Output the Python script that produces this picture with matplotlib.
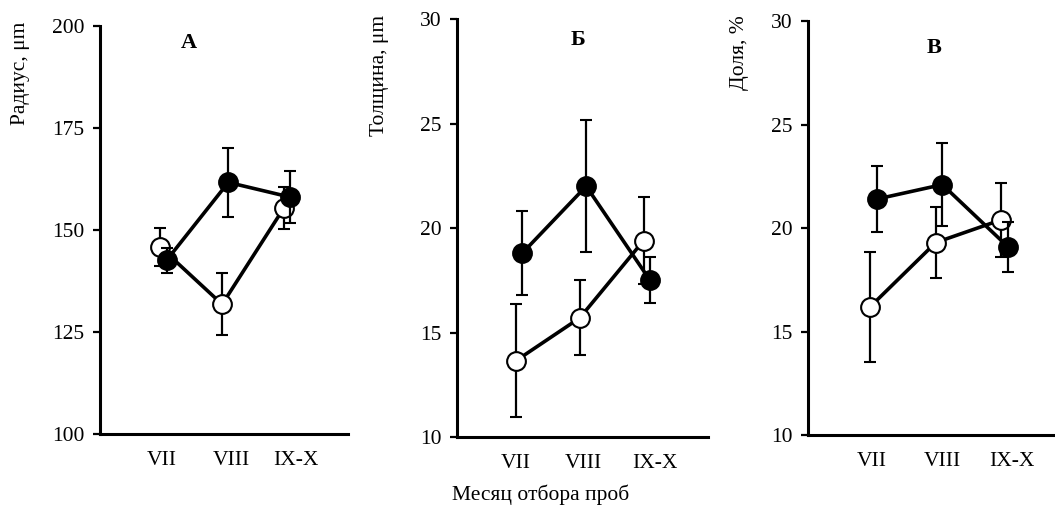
import matplotlib
matplotlib.use('Agg')
import matplotlib.pyplot as plt

plt.rcParams['font.family'] = ['Liberation Serif', 'DejaVu Serif']
plt.rcParams['font.size'] = 15.5

months = ['VII', 'VIII', 'IX-X']

# Panel A: radius
radius_filled = [142.6, 161.7, 158.1]
radius_filled_err = [3.1, 8.5, 6.3]
radius_open = [145.8, 131.8, 155.4]
radius_open_err = [4.7, 7.6, 5.2]

# Panel B: thickness
thick_filled = [18.8, 22.0, 17.5]
thick_filled_err = [2.0, 3.15, 1.1]
thick_open = [13.65, 15.7, 19.4]
thick_open_err = [2.7, 1.8, 2.1]

# Panel C: share
share_filled = [21.4, 22.1, 19.1]
share_filled_err = [1.6, 2.0, 1.2]
share_open = [16.2, 19.3, 20.4]
share_open_err = [2.65, 1.7, 1.8]


def drawPanel(fig, rect, xlim, tickPos, ylim, yticks, letter, letterPos,
              openVals, openErr, filledVals, filledErr):
    """Draws one panel with two series of means and error bars"""
    ax = fig.add_axes(rect)
    xs = [1, 2, 3]
    xOpen = [x - 0.05 for x in xs]
    xFilled = [x + 0.05 for x in xs]
    ax.errorbar(xOpen, openVals, yerr=openErr, color='black', lw=2.6,
                marker='o', ms=13.5, mfc='white', mec='black', mew=1.5,
                ecolor='black', elinewidth=1.6, capsize=4, capthick=1.6,
                zorder=2)
    ax.errorbar(xFilled, filledVals, yerr=filledErr, color='black', lw=2.6,
                marker='o', ms=13.5, mfc='black', mec='black', mew=1.5,
                ecolor='black', elinewidth=1.6, capsize=4, capthick=1.6,
                zorder=3)
    ax.set_xlim(*xlim)
    ax.set_ylim(*ylim)
    ax.set_yticks(yticks)
    ax.set_xticks(tickPos)
    ax.set_xticklabels(months)
    ax.tick_params(axis='x', length=0, pad=12)
    ax.tick_params(axis='y', length=5, width=1.6, pad=6, direction='out')
    for side in ['top', 'right']:
        ax.spines[side].set_visible(False)
    for side in ['left', 'bottom']:
        ax.spines[side].set_linewidth(2.2)
    ax.text(letterPos[0], letterPos[1], letter, transform=ax.transAxes,
            fontweight='bold', ha='center', va='center', fontsize=16)
    return ax


fig = plt.figure(figsize=(10.55, 5.11), dpi=100)

drawPanel(fig, [0.0948, 0.1507, 0.235, 0.798], (-0.03, 3.99),
          [0.97, 2.1, 3.14], (100, 200), [100, 125, 150, 175, 200],
          'А', (0.36, 0.96), radius_open, radius_open_err,
          radius_filled, radius_filled_err)
drawPanel(fig, [0.4332, 0.1448, 0.238, 0.818], (0.027, 3.96),
          [0.94, 2.0, 3.13], (10, 30), [10, 15, 20, 25, 30],
          'Б', (0.48, 0.95), thick_open, thick_open_err,
          thick_filled, thick_filled_err)
drawPanel(fig, [0.7659, 0.1487, 0.2341, 0.810], (0.0, 3.77),
          [0.98, 2.05, 3.11], (10, 30), [10, 15, 20, 25, 30],
          'В', (0.51, 0.935), share_open, share_open_err,
          share_filled, share_filled_err)

fig.text(0.019, 0.957, 'Радиус, μm', rotation=90, ha='center', va='top')
fig.text(0.360, 0.971, 'Толщина, μm', rotation=90, ha='center', va='top')
fig.text(0.701, 0.971, 'Доля, %', rotation=90, ha='center', va='top')
fig.text(0.512, 0.031, 'Месяц отбора проб', ha='center', va='center')

fig.savefig('out.png', dpi=100)
